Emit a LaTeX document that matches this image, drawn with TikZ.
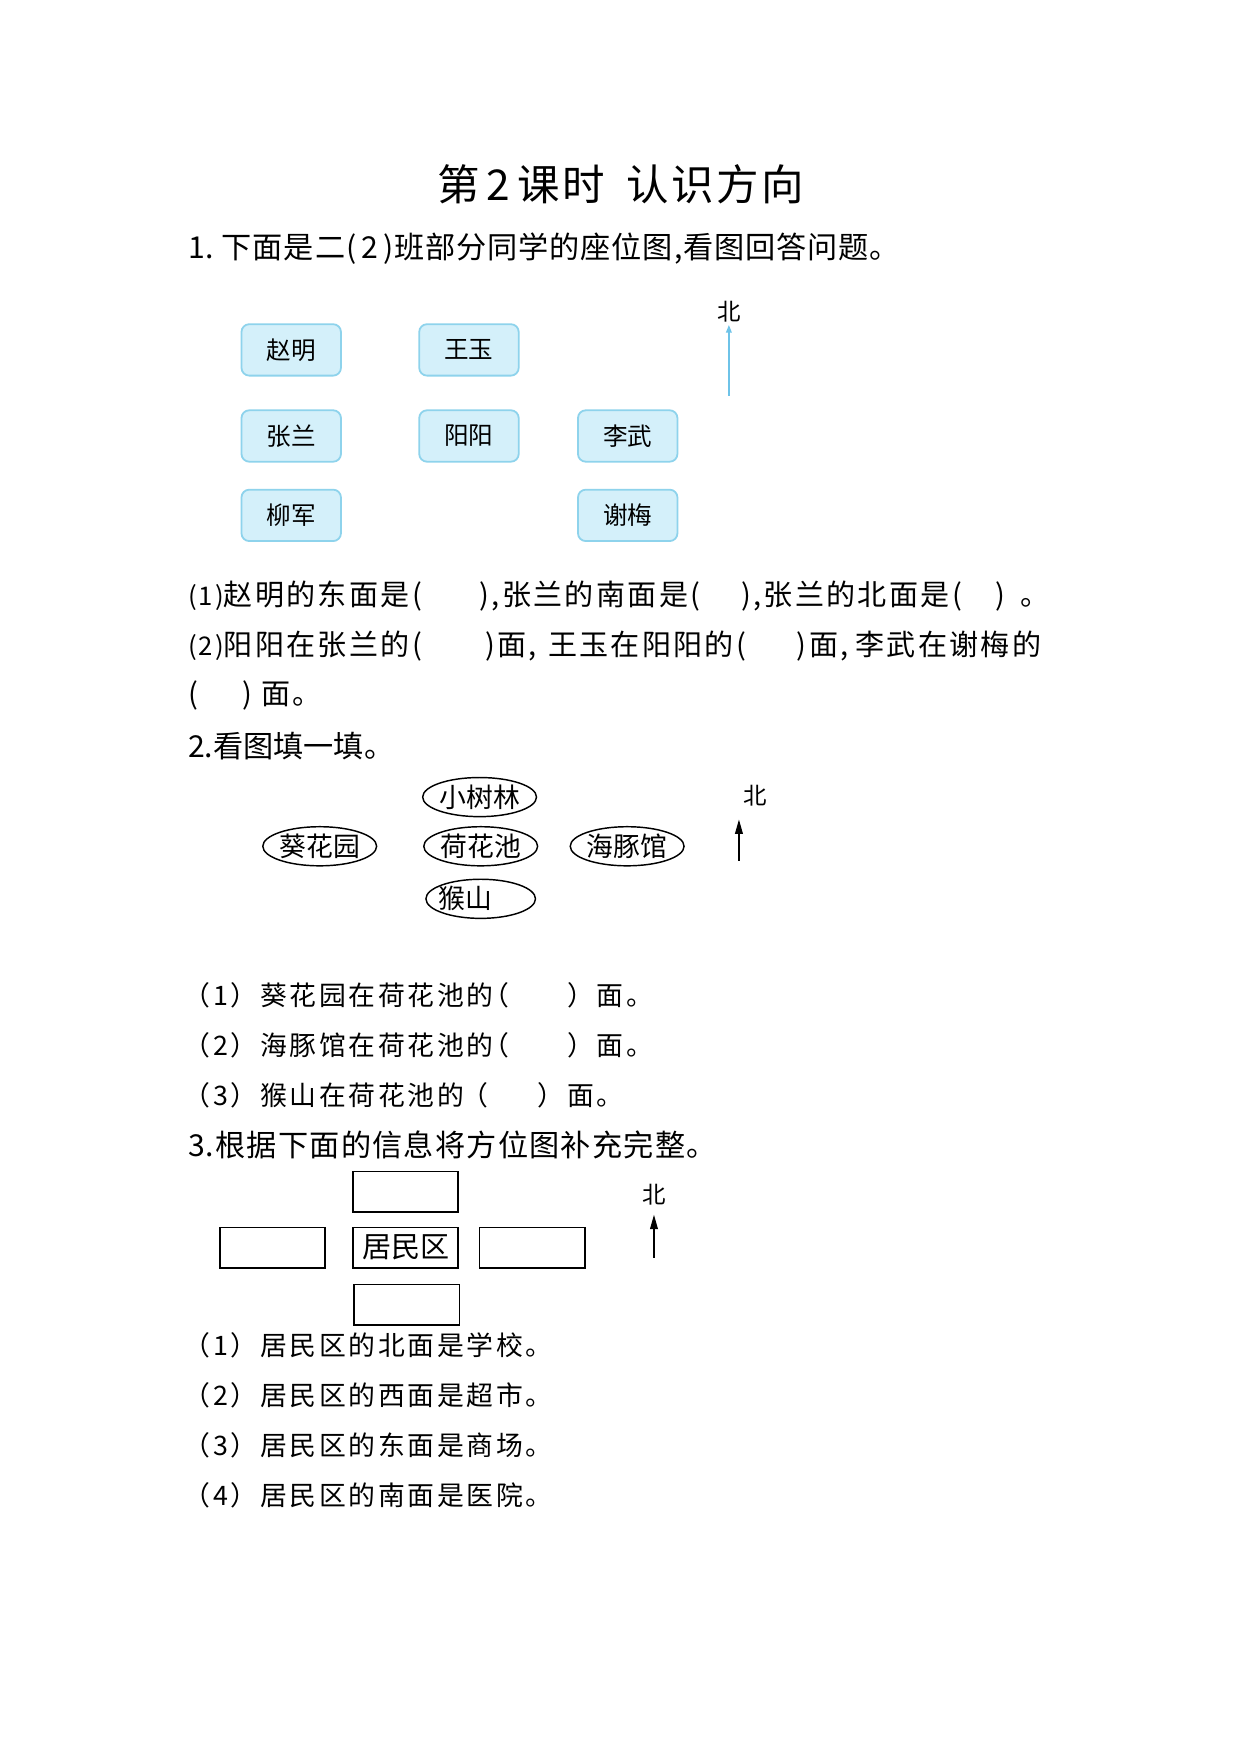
\documentclass[tikz,border=0pt]{standalone}
\usepackage{fontspec}
\setmainfont{Noto Sans CJK SC}
\usetikzlibrary{shapes.geometric,arrows.meta}
\definecolor{seatfill}{HTML}{D4F0FA}
\definecolor{seatline}{HTML}{8ED3EC}
\definecolor{northblue}{HTML}{6EC3E8}
\newcommand{\lsp}[1]{\addfontfeatures{LetterSpace=#1}}
\newcommand{\tagnum}[1]{{\fontsize{23}{26}\selectfont(#1)}}
\tikzset{
  txt/.style={anchor=west, inner sep=0pt, font=\fontsize{27}{30}\selectfont},
  sqtxt/.style={anchor=west, inner sep=0pt, font=\fontsize{26}{30}\selectfont\lsp{8}},
  qtxt/.style={anchor=west, inner sep=0pt, font=\fontsize{24}{28}\selectfont\lsp{10}},
  seat/.style={draw=seatline, fill=seatfill, rounded corners=7pt, line width=1.6pt,
    minimum width=89pt, minimum height=46pt, inner sep=0pt, font=\fontsize{22}{24}\selectfont},
  ell/.style={draw, ellipse, line width=1.3pt, minimum width=98pt, minimum height=35pt,
    inner sep=0pt, font=\fontsize{24}{26}\selectfont},
  rbox/.style={draw, line width=1.6pt, minimum width=94pt, minimum height=36pt,
    inner sep=0pt, font=\fontsize{26}{28}\selectfont},
  northlbl/.style={inner sep=0pt, font=\fontsize{21}{24}\selectfont},
  blackarrow/.style={-{Triangle[length=13pt,width=7pt]}, line width=1.2pt},
  bluearrow/.style={-{Triangle[length=7pt,width=5pt]}, line width=1.5pt, draw=northblue, fill=northblue}
}
\begin{document}
\begin{tikzpicture}[x=1pt,y=-1pt]
\useasboundingbox[fill=white] (0,0) rectangle (1110,1569);

% title
\node[inner sep=0pt, font=\fontsize{38}{42}\selectfont\lsp{6}] (title) at (555,165) {第\,2\,课时\hspace{0.5em}认识方向};

% section 1
\node[txt, font=\fontsize{27}{30}\selectfont\lsp{3}] (s1) at (168,222) {1.\ 下面是二(\,2\,)班部分同学的座位图,看图回答问题。};

\node[seat] (zm) at (260.5,313) {赵明};
\node[seat] (wy) at (419.5,313) {王玉};
\node[seat] (zl) at (260.5,390) {张兰};
\node[seat] (yy) at (419.5,390) {阳阳};
\node[seat] (lw) at (561.5,390) {李武};
\node[seat] (lj) at (260.5,461) {柳军};
\node[seat] (xm) at (561.5,461) {谢梅};

\node[northlbl] (n1) at (652,279) {北};
\coordinate (a1s) at (652,354);
\draw[bluearrow] (a1s) -- ([yshift=-2pt]n1.south);

\node[sqtxt] (q11) at (168,533) {\tagnum{1}赵明的东面是(\hspace{51.6pt}),张兰的南面是(\hspace{36.5pt}),张兰的北面是(\hspace{30pt})\hspace{14pt}。};
\node[sqtxt] (q12) at (168,578) {\tagnum{2}阳阳在张兰的(\hspace{56.6pt})面,\hspace{10pt}王玉在阳阳的(\hspace{45.4pt})面,\hspace{6pt}李武在谢梅的};
\node[sqtxt] (q13) at (168,622) {(\hspace{40pt})\hspace{8pt}面。};

% section 2
\node[txt] (s2) at (168,667) {2.看图填一填。};

\node[ell] (xsl) at (429,713) {小树林};
\node[ell] (khy) at (286,757) {葵花园};
\node[ell] (hhc) at (430,757) {荷花池};
\node[ell] (htg) at (561,757) {海豚馆};
\node[ell] (hs) at (430,804) {\makebox[48pt][l]{\kern-14pt 猴山}};

\node[northlbl] (n2) at (676,712) {北};
\coordinate (a2s) at (661,770);
\coordinate (a2e) at (661,733);
\draw[blackarrow] (a2s) -- (a2e);

\node[qtxt] (q21) at (164,890) {（1）葵花园在荷花池的\hspace{-10pt}（\hspace{52pt}）面。};
\node[qtxt] (q22) at (164,935) {（2）海豚馆在荷花池的\hspace{-10pt}（\hspace{52pt}）面。};
\node[qtxt] (q23) at (164,980) {（3）猴山在荷花池的\hspace{-2pt}（\hspace{44pt}）面。};

% section 3
\node[txt, font=\fontsize{27}{30}\selectfont\lsp{4}] (s3) at (168,1024) {3.根据下面的信息将方位图补充完整。};

\node[rbox] (rt) at (363,1066) {};
\node[rbox] (rl) at (244,1116) {};
\node[rbox] (rc) at (363,1116) {居民区};
\node[rbox] (rr) at (476,1116) {};
\node[rbox] (rb) at (364,1167) {};

\node[northlbl] (n3) at (585,1069) {北};
\coordinate (a3s) at (585,1125);
\draw[blackarrow] (a3s) -- ([yshift=-8pt]n3.south);

\node[qtxt] (q31) at (164,1203) {（1）居民区的北面是学校。};
\node[qtxt] (q32) at (164,1248) {（2）居民区的西面是超市。};
\node[qtxt] (q33) at (164,1293) {（3）居民区的东面是商场。};
\node[qtxt] (q34) at (164,1338) {（4）居民区的南面是医院。};
\end{tikzpicture}
\end{document}
